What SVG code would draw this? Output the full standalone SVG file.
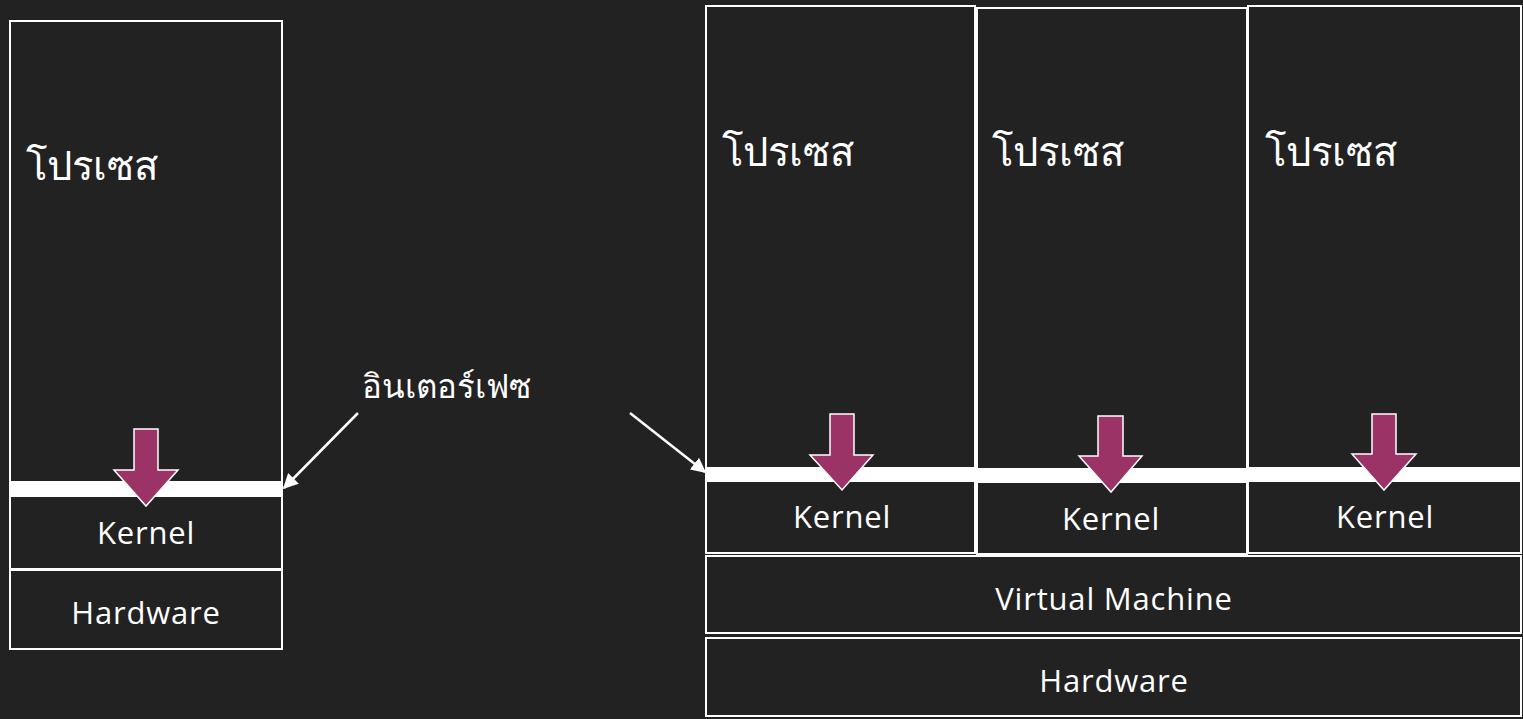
<svg xmlns="http://www.w3.org/2000/svg" width="1523" height="719" viewBox="0 0 1523 719">
  <defs>
    <style>
      .box { fill: none; stroke: #ffffff; stroke-width: 2; }
      .band { fill: #ffffff; }
      .down { fill: #9b3366; stroke: #ffffff; stroke-width: 1.5; stroke-linejoin: miter; }
      .lbl { font-family: "Open Sans", "Noto Sans", sans-serif; font-size: 31px; letter-spacing: 0.8px; fill: #ffffff; text-anchor: middle; }
      .th { font-family: "Noto Sans", "DejaVu Sans", sans-serif; font-weight: 300; fill: #ffffff; }
      .conn { stroke: #ffffff; stroke-width: 2.5; fill: none; }
    </style>
    <marker id="tip" viewBox="0 0 10 10" refX="9" refY="5" markerWidth="6" markerHeight="6" markerUnits="strokeWidth" orient="auto">
      <path d="M0,0 L10,5 L0,10 z" fill="#ffffff"/>
    </marker>
  </defs>
  <rect width="1523" height="719" fill="#222222"/>

  <!-- single machine stack -->
  <g id="proc-single">
    <rect class="box" x="10" y="21" width="272" height="468"/>
    <text class="th" x="26" y="180" font-size="40">โปรเซส</text>
  </g>
  <g id="kernel-single">
    <rect class="box" x="10" y="489" width="272" height="80"/>
    <text class="lbl" x="146" y="544">Kernel</text>
  </g>
  <g id="hardware-single">
    <rect class="box" x="10" y="570" width="272" height="79"/>
    <text class="lbl" x="146" y="624">Hardware</text>
  </g>
  <g id="iface-single">
    <rect class="band" x="10" y="481" width="272" height="16"/>
    <path class="down" d="M134,429 H158 V470 H178 L146,506 L114,470 H134 Z"/>
  </g>

  <!-- virtualised stack -->
  <g id="proc-vm1">
    <rect class="box" x="706" y="6" width="269" height="547"/>
    <text class="th" x="722" y="166" font-size="40">โปรเซส</text>
  </g>
  <g id="proc-vm2">
    <rect class="box" x="977" y="8" width="270" height="546"/>
    <text class="th" x="992" y="166" font-size="40">โปรเซส</text>
  </g>
  <g id="proc-vm3">
    <rect class="box" x="1248" y="6" width="273" height="547"/>
    <text class="th" x="1265" y="166" font-size="40">โปรเซส</text>
  </g>
  <g id="kernel-vm1">
    <rect class="band" x="706" y="467" width="269" height="15"/>
    <path class="down" d="M830,414 H854 V455 H873 L842,490 L810,455 H830 Z"/>
    <text class="lbl" x="842" y="528">Kernel</text>
  </g>
  <g id="kernel-vm2">
    <rect class="band" x="975" y="468" width="272" height="15"/>
    <path class="down" d="M1098,416 H1123 V456 H1142 L1111,492 L1079,456 H1098 Z"/>
    <text class="lbl" x="1111" y="530">Kernel</text>
  </g>
  <g id="kernel-vm3">
    <rect class="band" x="1247" y="467" width="273" height="15"/>
    <path class="down" d="M1372,414 H1396 V454 H1416 L1384,490 L1352,454 H1372 Z"/>
    <text class="lbl" x="1385" y="528">Kernel</text>
  </g>
  <g id="virtual-machine">
    <rect class="box" x="706" y="556" width="815" height="77"/>
    <text class="lbl" x="1114" y="610">Virtual Machine</text>
  </g>
  <g id="hardware-vm">
    <rect class="box" x="706" y="638" width="815" height="78"/>
    <text class="lbl" x="1114" y="692">Hardware</text>
  </g>

  <!-- interface label -->
  <g id="iface-label">
    <text class="th" x="362" y="398" font-size="33">อินเตอร์เฟซ</text>
  </g>

  <g id="connectors">
    <line class="conn" x1="358" y1="413" x2="284" y2="488" marker-end="url(#tip)"/>
    <line class="conn" x1="630" y1="413" x2="705" y2="472" marker-end="url(#tip)"/>
  </g>
</svg>
